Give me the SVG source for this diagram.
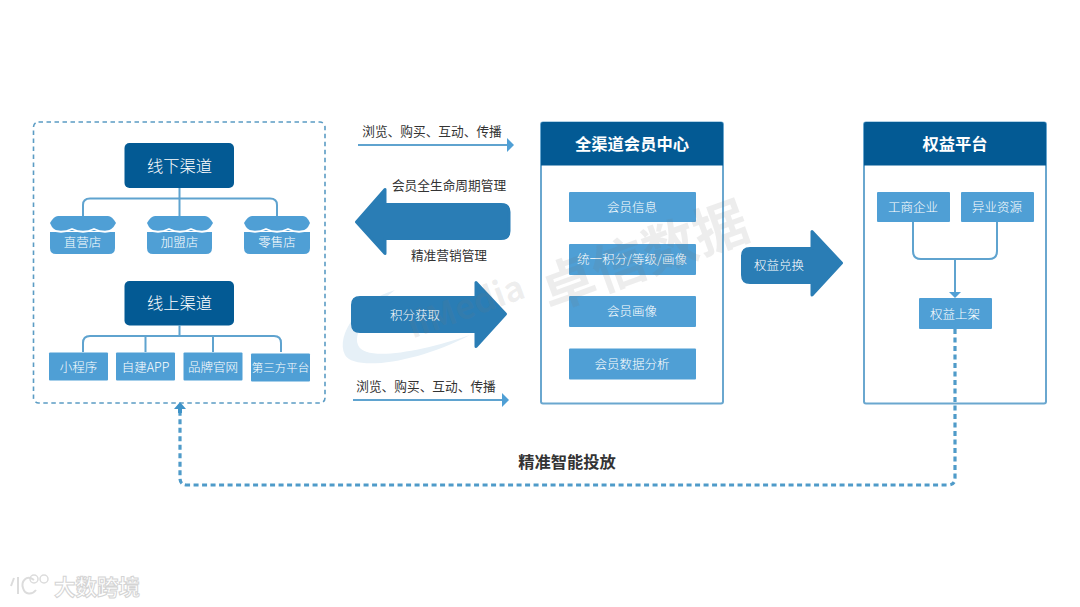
<svg xmlns="http://www.w3.org/2000/svg" width="1080" height="607" viewBox="0 0 1080 607">
<style>
text{font-family:"Noto Sans CJK SC","Liberation Sans",sans-serif;text-anchor:middle}
.dark{fill:#035a94}
.light{fill:#4f9fd5}
.arrow{fill:#2a7db5;stroke:#2a7db5;stroke-width:3;stroke-linejoin:round}
.w14{fill:#fff;font-size:16.300px;font-weight:300}
.w15{fill:#fff;font-size:16.300px;font-weight:700}
.w12{fill:#fff;font-size:12.500px;font-weight:300}
.k12{fill:#333;font-size:12.700px}
.line{fill:none;stroke:#5fa3cf;stroke-width:2}
.panel{fill:#fff;stroke:#6aa7cf;stroke-width:2}
.dash{fill:none;stroke:#4f9bc9;stroke-width:3.200;stroke-dasharray:5 3.500}
.wm{fill:#777;fill-opacity:.13;font-weight:700}
.wave{fill:none;stroke:#fff;stroke-width:1.800}
</style>
<rect width="1080" height="607" fill="#fff"/>
<path id="swoosh" d="M395 290C360 300 335 335 345 355C355 372 420 362 470 335C420 352 365 362 358 345C352 330 375 305 395 290Z" fill="#e6f0f7"/>
<g id="channels">
<rect x="33.500" y="122" width="291.500" height="281" rx="5" fill="none" stroke="#5b9cc4" stroke-width="1.600" stroke-dasharray="4.500 3.500"/>
</g>
<g id="offline">
<rect class="dark" x="124.500" y="143" width="109.500" height="45" rx="5"/>
<text class="w14" x="179.500" y="172">线下渠道</text>
</g>
<g id="store1">
<path class="light" d="M50 232H115V248Q115 254 109 254H56Q50 254 50 248Z"/>
<path class="light" d="M58 216H108Q112 216 116 223Q112 231 105 231H60Q53 231 50 223Q54 216 58 216Z"/>
<path class="wave" d="M50 229Q61 234.500 72 229Q83 234.500 94 229Q105 234.500 116 229"/>
<text class="w12" x="82.500" y="247">直营店</text>
</g>
<g id="store2">
<path class="light" d="M147 232H212V248Q212 254 206 254H153Q147 254 147 248Z"/>
<path class="light" d="M155 216H205Q209 216 213 223Q209 231 202 231H157Q150 231 147 223Q151 216 155 216Z"/>
<path class="wave" d="M147 229Q158 234.500 169 229Q180 234.500 191 229Q202 234.500 213 229"/>
<text class="w12" x="179.500" y="247">加盟店</text>
</g>
<g id="store3">
<path class="light" d="M244 232H310V248Q310 254 304 254H250Q244 254 244 248Z"/>
<path class="light" d="M252 216H303Q307 216 310 223Q307 231 300 231H254Q247 231 244 223Q248 216 252 216Z"/>
<path class="wave" d="M244 229Q255 234.500 266 229Q277 234.500 288 229Q299 234.500 310 229"/>
<text class="w12" x="277" y="247">零售店</text>
</g>
<g id="online">
<rect class="dark" x="124.500" y="281" width="109.500" height="44.500" rx="5"/>
<text class="w14" x="179.500" y="309">线上渠道</text>
</g>
<g id="n1"><rect class="light" x="49" y="352.500" width="59" height="28" rx="1"/><text class="w12" x="78.500" y="372">小程序</text></g>
<g id="n2"><rect class="light" x="116" y="352.500" width="59" height="28" rx="1"/><text class="w12" x="145.500" y="372">自建APP</text></g>
<g id="n3"><rect class="light" x="183.500" y="352.500" width="59" height="28" rx="1"/><text class="w12" x="213" y="372">品牌官网</text></g>
<g id="n4"><rect class="light" x="251" y="353.500" width="59" height="28" rx="1"/><text class="w12" x="280.500" y="372" style="font-size:11.500px">第三方平台</text></g>
<g id="arrow-top"><text class="k12" x="432" y="136">浏览、购买、互动、传播</text></g>
<g id="arrow-left">
<text class="k12" x="449" y="190">会员全生命周期管理</text>
<path class="arrow" d="M356.500 222L385 189.500V204.500H501Q509 204.500 509 212V231Q509 238.500 501 238.500H385V253.500Z"/>
<text class="k12" x="449" y="260">精准营销管理</text>
</g>
<g id="arrow-right">
<path class="arrow" d="M505.500 314L476 282.500V297.500H360Q352.500 297.500 352.500 305V324Q352.500 331.500 360 331.500H476V346.500Z"/>
<text class="w12" x="415" y="320">积分获取</text>
</g>
<g id="arrow-bottom"><text class="k12" x="426" y="391">浏览、购买、互动、传播</text></g>
<g id="member-center">
<rect class="panel" x="541" y="122.500" width="182" height="281" rx="2"/>
<path class="dark" d="M541 124Q541 122 543 122H721Q723 122 723 124V165.500H541Z"/>
<text class="w15" x="632" y="150">全渠道会员中心</text>
</g>
<g id="m1"><rect class="light" x="569" y="192" width="127" height="30" rx="1"/><text class="w12" x="632" y="212">会员信息</text></g>
<g id="m2"><rect class="light" x="569" y="244" width="127" height="31" rx="1"/><text class="w12" x="632" y="264">统一积分/等级/画像</text></g>
<g id="m3"><rect class="light" x="569" y="296" width="127" height="31" rx="1"/><text class="w12" x="632" y="316">会员画像</text></g>
<g id="m4"><rect class="light" x="569" y="348.500" width="127" height="31" rx="1"/><text class="w12" x="632" y="369">会员数据分析</text></g>
<g id="arrow-exchange">
<path class="arrow" d="M841.500 263L812 231.500V248.500H750Q742.500 248.500 742.500 256V275Q742.500 282.500 750 282.500H812V295Z"/>
<text class="w12" x="779" y="270">权益兑换</text>
</g>
<g id="rights-platform">
<rect class="panel" x="864" y="122.500" width="182" height="281" rx="2"/>
<path class="dark" d="M864 124Q864 122 866 122H1044Q1046 122 1046 124V165.500H864Z"/>
<text class="w15" x="955" y="150">权益平台</text>
</g>
<g id="r1"><rect class="light" x="877" y="192" width="73" height="30" rx="1"/><text class="w12" x="913" y="212">工商企业</text></g>
<g id="r2"><rect class="light" x="961" y="192" width="73" height="30" rx="1"/><text class="w12" x="997" y="212">异业资源</text></g>
<g id="r3"><rect class="light" x="919" y="298" width="73" height="31" rx="1"/><text class="w12" x="955" y="319">权益上架</text></g>
<g id="connectors">
<path class="line" d="M179.500 188V216M83 216V205Q83 198.500 90 198.500H270Q277 198.500 277 205V216"/>
<path class="line" d="M179.500 325V336M83 352V343Q83 336 90 336H274Q281 336 281 343V352M145.500 336V352M213 336V352"/>
<path class="line" d="M358 145H508"/><path d="M507 138L514 145L507 152Z" fill="#4f9fd5"/>
<path class="line" d="M353 400H503"/><path d="M502 393L509 400L502 407Z" fill="#4f9fd5"/>
<path class="line" d="M913 222V251Q913 259 921 259H989Q997 259 997 251V222M955 259V293"/>
<path d="M949 292H961L955 298Z" fill="#4f9fd5"/>
<path class="dash" d="M955 329V478Q955 485 948 485H187Q180 485 180 478V412"/>
<path d="M180 402L186 409H182V413H178V409H174Z" fill="#3f93c8"/>
</g>
<g id="label"><text x="567" y="468" font-size="16.300" font-weight="700" fill="#333">精准智能投放</text></g>
<g id="watermark">
<text x="470" y="318" class="wm" font-size="34" transform="rotate(-20 470 318)">iiMedia</text>
<text x="651" y="274" class="wm" font-size="54" transform="rotate(-20 651 274)">卓信数据</text>
</g>
<g id="logo">
<text x="97" y="595" font-size="21.500" font-weight="700" fill="#fff" stroke="#d4d4d4" stroke-width="1">大数跨境</text>
<path d="M14 578L11 586M18 577V594M34 580C26 574 21 582 23 588C25 595 32 595 36 590" fill="none" stroke="#dcdcdc" stroke-width="2"/>
<circle cx="34" cy="579" r="4" fill="none" stroke="#dcdcdc" stroke-width="1.500"/><circle cx="44" cy="579" r="4" fill="none" stroke="#dcdcdc" stroke-width="1.500"/>
</g>
</svg>
